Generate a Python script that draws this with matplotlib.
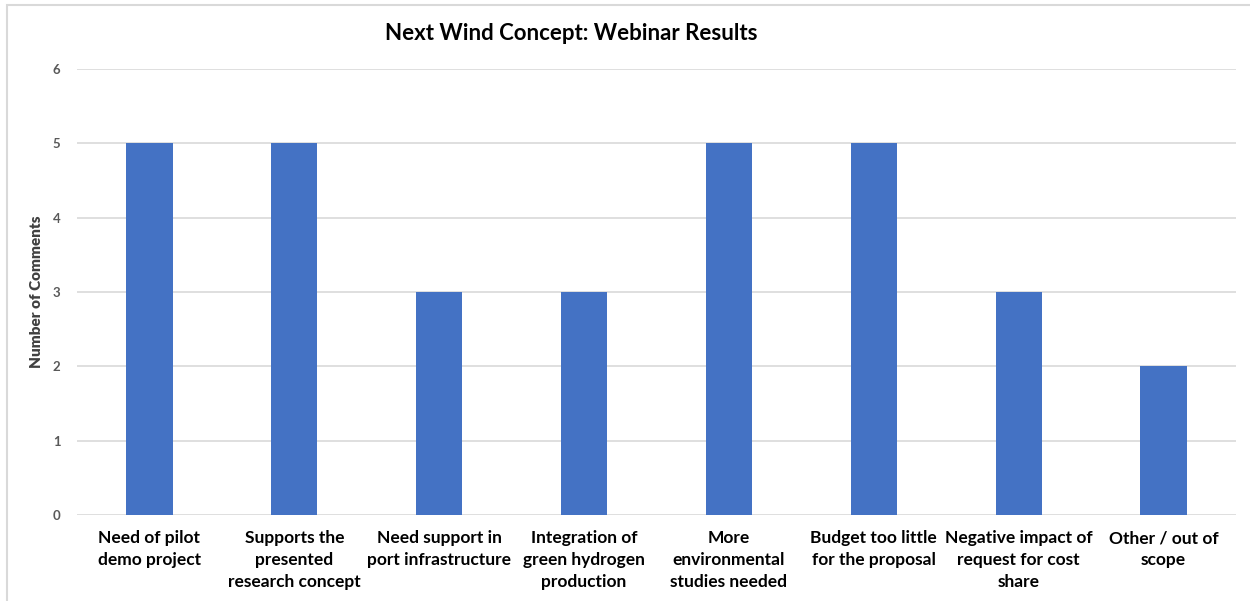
import matplotlib.pyplot as plt
from matplotlib.patches import Rectangle

categories = [
    'Need of pilot\ndemo project',
    'Supports the\npresented\nresearch concept',
    'Need support in\nport infrastructure',
    'Integration of\ngreen hydrogen\nproduction',
    'More\nenvironmental\nstudies needed',
    'Budget too little\nfor the proposal',
    'Negative impact of\nrequest for cost\nshare',
    'Other / out of\nscope',
]
comments = [5, 5, 3, 3, 5, 5, 3, 2]

plt.rcParams['font.family'] = ['Lato', 'DejaVu Sans']

fig = plt.figure(figsize=(12.5, 6.01), dpi=100)
ax = fig.add_axes([0.0616, 0.1431, 0.9272, 0.7421])

# frame round the chart
fig.patches.append(Rectangle((7 / 1250, -0.01), 1.02, 1 - 5 / 601 + 0.01,
                             transform=fig.transFigure, fill=False,
                             edgecolor='#D9D9D9', linewidth=1.5))

x = range(len(categories))
ax.bar(x, comments, width=0.32, color='#4472C4', zorder=3)

ax.set_xlim(-0.5, len(categories) - 0.5)
ax.set_ylim(0, 6)
ax.set_yticks(range(0, 7))
ax.set_xticks(list(x))
ax.set_xticklabels(categories, fontsize=12.5, fontweight='bold', color='black',
                   linespacing=1.45)
ax.tick_params(axis='x', length=0, pad=11)
ax.tick_params(axis='y', length=0, pad=12, labelsize=9.5, labelcolor='#595959')
for lbl in ax.get_yticklabels():
    lbl.set_fontweight('bold')

ax.grid(axis='y', color='#D9D9D9', linewidth=1.2, zorder=0)
for s in ax.spines.values():
    s.set_visible(False)

ax.set_ylabel('Number of Comments', fontsize=11, fontweight='heavy',
              color='#404040', labelpad=7)

fig.text(571 / 1250, 1 - 33 / 601, 'Next Wind Concept: Webinar Results',
         ha='center', va='center', fontsize=16, fontweight='bold')

fig.savefig('out.png', dpi=100)
